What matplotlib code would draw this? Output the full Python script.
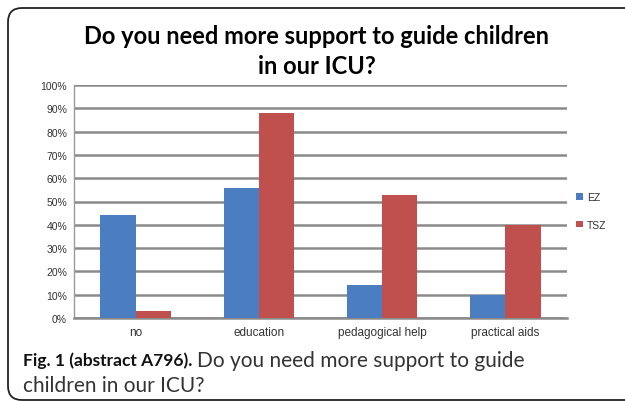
import matplotlib
matplotlib.use("Agg")
import matplotlib.pyplot as plt
import numpy as np
from matplotlib.patches import FancyBboxPatch
from matplotlib.transforms import IdentityTransform
from matplotlib.ticker import PercentFormatter

categories = ["no", "education", "pedagogical help", "practical aids"]
series_names = ["EZ", "TSZ"]
ez_values = [44, 56, 14, 10]
tsz_values = [3, 88, 53, 40]
y_ticks = list(range(0, 101, 10))

W, H = 625, 402
fig = plt.figure(figsize=(W / 100, H / 100), dpi=100)
fig.patch.set_facecolor("white")

# rounded border (pixel coordinates, origin bottom-left)
border = FancyBboxPatch((8, H - 401), 650, 392,
                        boxstyle="round,pad=0,rounding_size=14",
                        transform=IdentityTransform(), fill=False, edgecolor="#222222",
                        linewidth=1.3, clip_on=False)
fig.patches.append(border)

ax = fig.add_axes([74 / W, 1 - 319 / H, (567 - 74) / W, (319 - 86) / H])
x = np.arange(len(categories))
bw = 0.285
ax.bar(x - bw / 2, ez_values, bw, color="#4a7ec0", label=series_names[0], zorder=3)
ax.bar(x + bw / 2, tsz_values, bw, color="#c0504d", label=series_names[1], zorder=3)
ax.set_xlim(-0.5, len(categories) - 0.5)
ax.set_ylim(0, 100)
ax.set_yticks(y_ticks)
ax.yaxis.set_major_formatter(PercentFormatter(decimals=0))
ax.set_xticks(x)
ax.set_xticklabels(categories, fontsize=8.5, family="Liberation Sans", color="#333333")
for lbl in ax.get_yticklabels():
    lbl.set_fontsize(7.5)
    lbl.set_family("Liberation Sans")
    lbl.set_color("#333333")
ax.grid(axis="y", color="#8a8a8a", linewidth=1.8, zorder=0)
ax.tick_params(axis="x", length=0, pad=6)
ax.tick_params(axis="y", length=0, pad=5)
for s in ["top", "right"]:
    ax.spines[s].set_visible(False)
ax.spines["left"].set_color("#9a9a9a")
ax.spines["left"].set_linewidth(1.0)
ax.spines["bottom"].set_color("#8a8a8a")
ax.spines["bottom"].set_linewidth(1.8)

leg = ax.legend(loc="center left", bbox_to_anchor=(1.0, 0.46), frameon=False,
                handlelength=0.6, handleheight=0.6, handletextpad=0.4,
                labelspacing=1.7, prop={"family": "Liberation Sans", "size": 7.5})
for t in leg.get_texts():
    t.set_color("#333333")

fig.text(317 / W, 1 - 37 / H, "Do you need more support to guide children",
         ha="center", va="center", fontsize=17, fontweight="bold", family="Lato")
fig.text(317 / W, 1 - 66 / H, "in our ICU?",
         ha="center", va="center", fontsize=17, fontweight="bold", family="Lato")

# caption
renderer = fig.canvas.get_renderer()
t1 = fig.text(23 / W, 1 - 361 / H, "Fig. 1 (abstract A796).", ha="left", va="center",
              fontsize=12.5, fontweight="bold", family="Lato", color="#111111")
bb = t1.get_window_extent(renderer)
fig.text(bb.x1 / W + 5 / W, 1 - 361 / H, "Do you need more support to guide",
         ha="left", va="center", fontsize=15, family="Lato", color="#333333")
fig.text(23 / W, 1 - 386 / H, "children in our ICU?", ha="left", va="center",
         fontsize=15, family="Lato", color="#333333")

fig.savefig("out.png", dpi=100)
